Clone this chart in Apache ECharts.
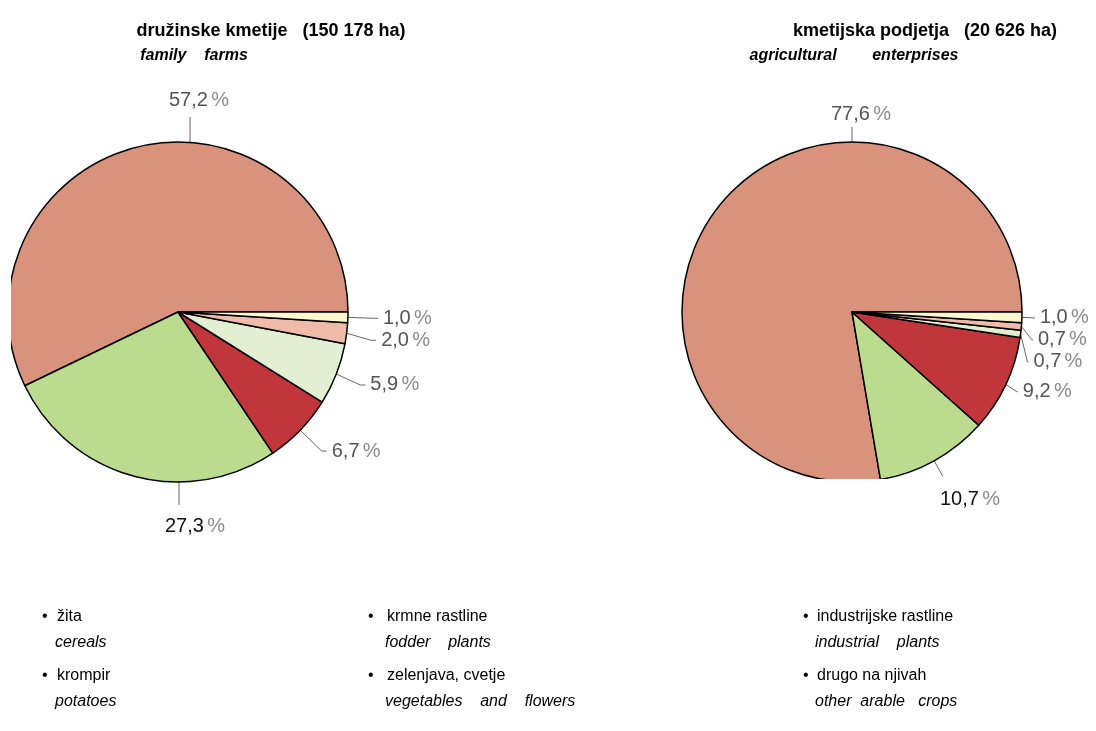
<!DOCTYPE html>
<html>
<head>
<meta charset="utf-8">
<script src="https://cdn.jsdelivr.net/npm/echarts@6/dist/echarts.min.js"></script>
<style>
  html, body { margin: 0; padding: 0; background: #fff; }
  #chart { width: 1096px; height: 731px; }
</style>
</head>
<body>
<div id="chart"></div>
<script>
// vrste posevkov / crop types (pie order, counter-clockwise from 3 o'clock)
const categories = ['žita', 'krmne rastline', 'industrijske rastline', 'krompir', 'zelenjava, cvetje', 'drugo na njivah'];
const categoriesEn = ['cereals', 'fodder    plants', 'industrial    plants', 'potatoes', 'vegetables    and    flowers', 'other  arable   crops'];

// delež njiv v %
const familyFarms = [57.2, 27.3, 6.7, 5.9, 2.0, 1.0];
const enterprises = [77.6, 10.7, 9.2, 0.7, 0.7, 1.0];

const colors = ['#d9937d', '#bbdb8f', '#c1363b', '#e3efd3', '#f0bba8', '#fdf7cf'];

const FONT = "'Liberation Sans', Arial, sans-serif";

const pies = [
  { name: 'družinske kmetije', values: familyFarms, cx: 178, cy: 312, r: 170,
    topDx: 12, topLen: 25, bottom: 'down', lineLen: 30, lineLen2: 5 },
  { name: 'kmetijska podjetja', values: enterprises, cx: 852, cy: 312, r: 170,
    topDx: 0, topLen: 15, bottom: 'radial', lineLen: 17, lineLen2: 1 }
];

function fmt(v) {
  return v.toFixed(1).replace('.', ',');
}

// veliki izseki imajo oznako nad / pod krogom
function makeLayout(p) {
  return function (params) {
    if (params.dataIndex === 0) {
      const x = p.cx + p.topDx;
      const y1 = p.cy - p.r - p.topLen;
      return {
        x: x + 9, y: y1 - (p.topLen > 20 ? 2 : -2), align: 'center', verticalAlign: 'bottom',
        labelLinePoints: [[x, p.cy - p.r], [x, y1], [x, y1]]
      };
    }
    if (params.dataIndex === 1 && p.bottom === 'down') {
      const x = p.cx + 1;
      const y1 = p.cy + p.r + 23;
      return {
        x: x + 16, y: y1 + 6, align: 'center', verticalAlign: 'top',
        labelLinePoints: [[x, p.cy + p.r], [x, y1], [x, y1]]
      };
    }
    if (params.dataIndex === 1 && p.bottom === 'radial' && params.labelLinePoints) {
      const s = params.labelLinePoints[0];
      const m = params.labelLinePoints[1];
      const dx = m[0] - s[0], dy = m[1] - s[1];
      const len = Math.sqrt(dx * dx + dy * dy) || 1;
      const e = [s[0] + dx / len * 18, s[1] + dy / len * 18];
      return {
        x: e[0] + 27, y: e[1] + 8, align: 'center', verticalAlign: 'top',
        labelLinePoints: [s, e, e]
      };
    }
  };
}

const richGray = {
  n: { fontFamily: FONT, fontSize: 20, lineHeight: 24, color: '#555' },
  p: { fontFamily: FONT, fontSize: 20, lineHeight: 24, color: '#8a8a8a' }
};
const richDark = {
  n: { fontFamily: FONT, fontSize: 20, lineHeight: 24, color: '#111' },
  p: { fontFamily: FONT, fontSize: 20, lineHeight: 24, color: '#8a8a8a' }
};

const series = pies.map(p => ({
  type: 'pie',
  name: p.name,
  center: [p.cx, p.cy],
  radius: p.r,
  startAngle: 0,
  clockwise: false,
  animation: false,
  silent: true,
  avoidLabelOverlap: true,
  itemStyle: { borderColor: '#000', borderWidth: 1.5 },
  label: {
    position: 'outside',
    width: 80,
    padding: [3, 0],
    formatter: d => '{n|' + fmt(d.value) + '} {p|%}',
    rich: richGray
  },
  labelLine: { show: true, length: p.lineLen, length2: p.lineLen2, smooth: false, lineStyle: { color: '#666', width: 1 } },
  labelLayout: makeLayout(p),
  data: p.values.map((v, i) => ({
    name: categories[i],
    value: v,
    itemStyle: { color: colors[i] },
    label: i === 1 ? { rich: richDark } : undefined
  }))
}));

const graphic = [];

// ©SURS
pies.forEach(p => {
  graphic.push({
    type: 'text', x: p.cx + p.r - 2, y: p.cy - 2,
    style: { text: '©SURS', font: '11px ' + FONT, fill: '#8d6a5e', align: 'right', textAlign: 'right', verticalAlign: 'bottom', textVerticalAlign: 'bottom' }
  });
});

// obrezan spodnji rob desnega kroga
graphic.push({ type: 'rect', shape: { x: 810, y: 479, width: 85, height: 5 }, style: { fill: '#fff' }, z: 100 });
// obrezan levi rob levega kroga
graphic.push({ type: 'rect', shape: { x: 0, y: 130, width: 11, height: 360 }, style: { fill: '#fff' }, z: 100 });

// legenda
const legendCols = [[42, 57], [368, 387], [803, 817]];
const legendRows = [617, 676];
categories.forEach((c, i) => {
  const col = legendCols[i % 3];
  const y = legendRows[Math.floor(i / 3)];
  graphic.push({
    type: 'text', x: col[0], y: y,
    style: { text: '•', font: '16px ' + FONT, fill: '#000', verticalAlign: 'middle', textVerticalAlign: 'middle' }
  });
  graphic.push({
    type: 'text', x: col[1], y: y,
    style: { text: c, font: '16px ' + FONT, fill: '#000', verticalAlign: 'middle', textVerticalAlign: 'middle' }
  });
  graphic.push({
    type: 'text', x: col[1] - 2, y: y + 26,
    style: { text: categoriesEn[i], font: 'italic 16px ' + FONT, fill: '#000', verticalAlign: 'middle', textVerticalAlign: 'middle' }
  });
});

const chart = echarts.init(document.getElementById('chart'), null, { renderer: 'canvas' });
chart.setOption({
  backgroundColor: '#fff',
  title: [
    { text: 'družinske kmetije   (150 178 ha)', left: 266, top: 17, textAlign: 'center',
      textStyle: { fontFamily: FONT, fontSize: 18, fontWeight: 'bold', color: '#000' } },
    { text: 'family    farms', left: 189, top: 43, textAlign: 'center',
      textStyle: { fontFamily: FONT, fontSize: 16, fontWeight: 'bold', fontStyle: 'italic', color: '#000' } },
    { text: 'kmetijska podjetja   (20 626 ha)', left: 920, top: 17, textAlign: 'center',
      textStyle: { fontFamily: FONT, fontSize: 18, fontWeight: 'bold', color: '#000' } },
    { text: 'agricultural        enterprises', left: 849, top: 43, textAlign: 'center',
      textStyle: { fontFamily: FONT, fontSize: 16, fontWeight: 'bold', fontStyle: 'italic', color: '#000' } }
  ],
  series: series,
  graphic: graphic
});
</script>
</body>
</html>
